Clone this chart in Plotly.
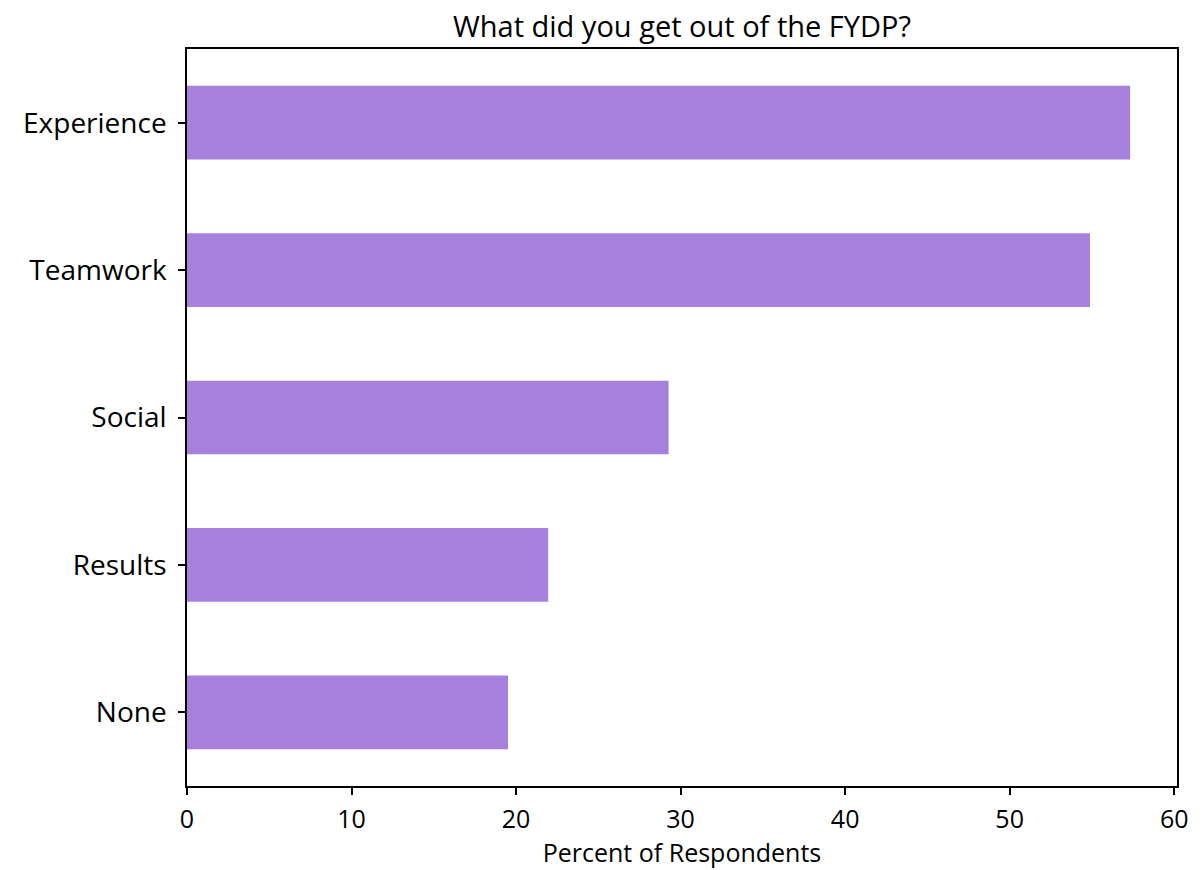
import plotly.graph_objects as go

categories = ["None", "Results", "Social", "Teamwork", "Experience"]
percent = [19.51, 21.95, 29.27, 54.88, 57.32]
x_ticks = [0, 10, 20, 30, 40, 50, 60]

FONT = "Open Sans"
fig = go.Figure(go.Bar(
    x=percent, y=categories, orientation="h",
    marker=dict(color="#a680dc", line=dict(width=0)),
    width=0.5,
))
fig.update_layout(
    width=1195, height=862,
    margin=dict(l=179, r=26, t=41, b=84, autoexpand=False),
    paper_bgcolor="white", plot_bgcolor="white",
    font=dict(family=FONT, color="black", size=26),
    title=dict(text="What did you get out of the FYDP?", x=0.5, xref="paper",
               xanchor="center", y=0.978, yref="container", yanchor="middle",
               font=dict(size=29, family=FONT)),
    showlegend=False,
)
fig.update_xaxes(range=[0, 60.17], tickvals=x_ticks, ticks="outside", ticklen=7,
                 tickwidth=1.5, tickcolor="black", showgrid=False, zeroline=False,
                 showline=True, linecolor="black", linewidth=1.5, mirror=True,
                 ticklabelstandoff=3, automargin=False,
                 title=dict(text="Percent of Respondents", standoff=10, font=dict(size=25)),
                 tickfont=dict(size=25))
fig.update_yaxes(range=[-0.5, 4.5], ticks="outside", ticklen=7, tickwidth=1.5,
                 tickcolor="black", showgrid=False, showline=True, linecolor="black",
                 linewidth=1.5, mirror=True, ticklabelstandoff=6, automargin=False,
                 tickfont=dict(size=28))
fig.write_html("out.html")
